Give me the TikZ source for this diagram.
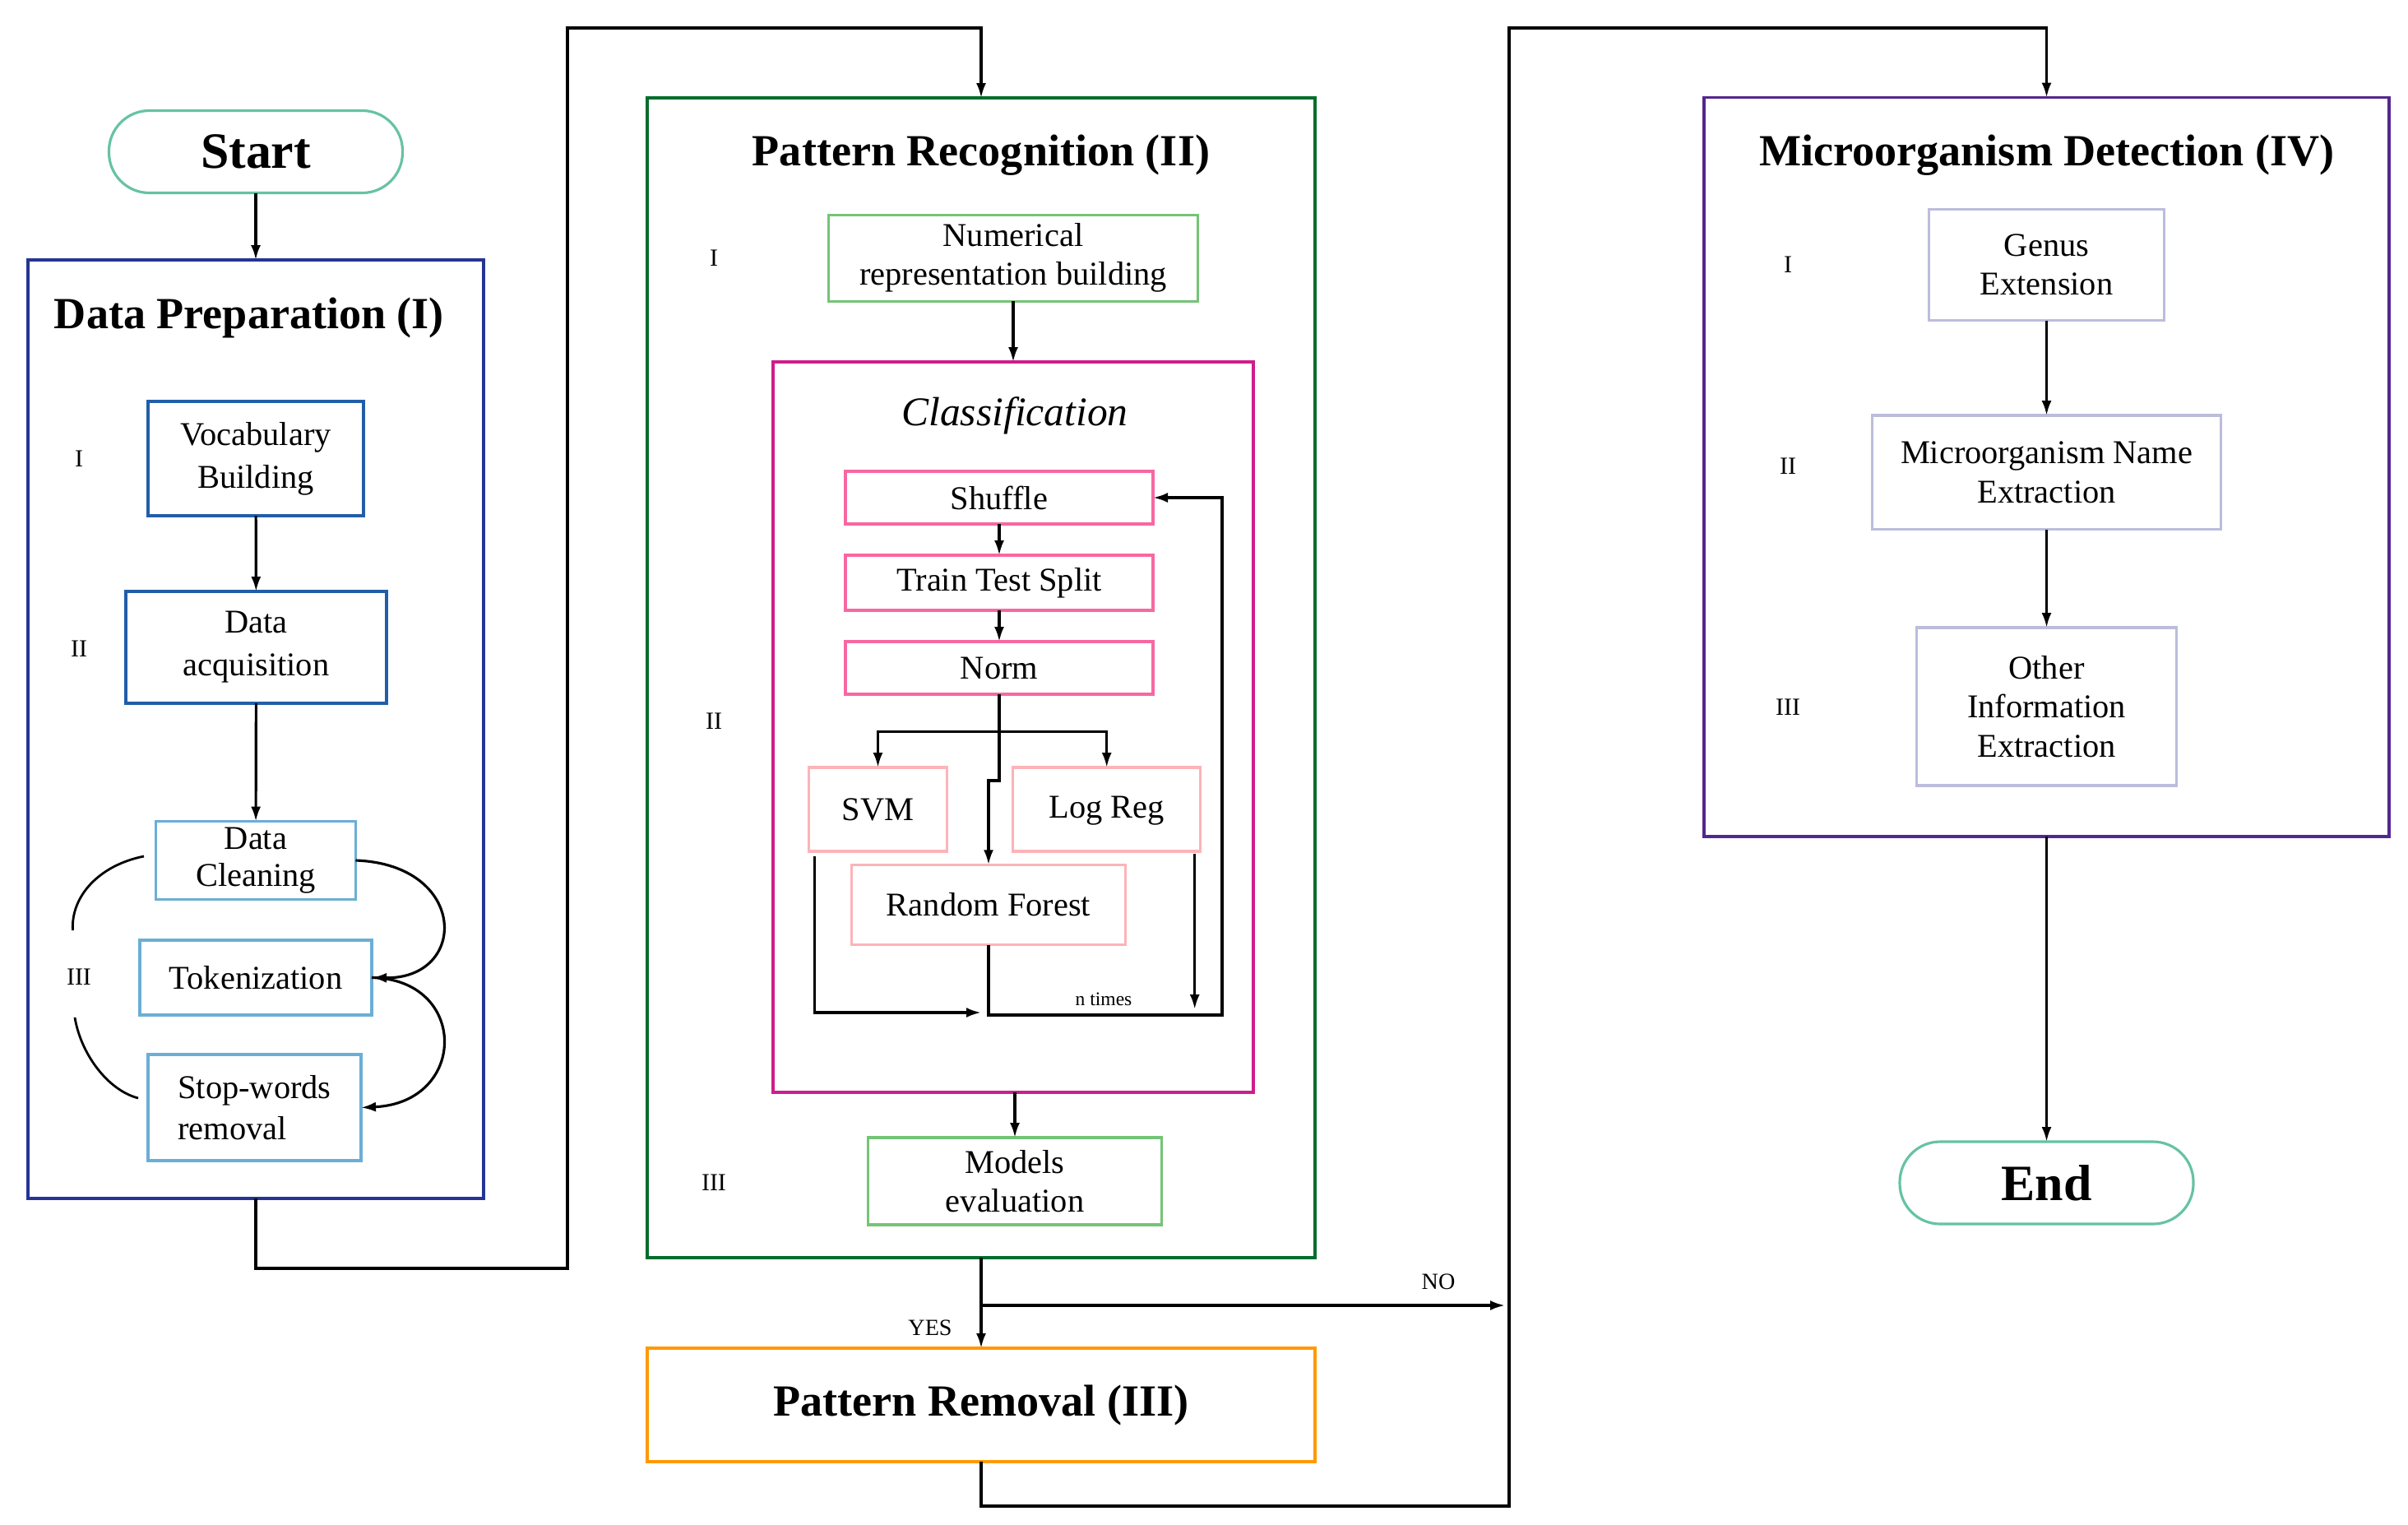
\documentclass[tikz,border=0pt]{standalone}
\usepackage{fontspec}
\setmainfont{Liberation Serif}
\usepackage{xcolor}
\usepackage{tikz}
\usetikzlibrary{arrows.meta}

\definecolor{termgreen}{RGB}{102,194,165}
\definecolor{dpnavy}{RGB}{37,52,148}
\definecolor{dpblue}{RGB}{34,94,168}
\definecolor{dplight}{RGB}{107,174,214}
\definecolor{prgreen}{RGB}{0,109,44}
\definecolor{prlight}{RGB}{116,196,118}
\definecolor{clmagenta}{RGB}{205,30,140}
\definecolor{clpink}{RGB}{247,104,161}
\definecolor{clrose}{RGB}{251,180,185}
\definecolor{remorange}{RGB}{255,153,0}
\definecolor{mdpurple}{RGB}{84,39,143}
\definecolor{mdlav}{RGB}{188,189,220}

\begin{document}
\begin{tikzpicture}[
  flow/.style={-{Latex[length=1.8mm,width=1.2mm]}, line width=0.9pt},
  stage/.style={draw=#1, line width=1.1pt, inner sep=0pt, outer sep=0pt},
  box/.style={draw=#1, line width=0.9pt, inner sep=2pt, outer sep=0pt, align=center,
    font=\fontsize{11.5}{13.5}\selectfont},
  term/.style={draw=termgreen, line width=0.9pt, rounded corners=0.49cm, outer sep=0pt,
    minimum width=3.57cm, minimum height=1cm, font=\bfseries\fontsize{17.6}{20}\selectfont},
  heading/.style={font=\bfseries\fontsize{15.4}{18}\selectfont},
  roman/.style={font=\fontsize{8.5}{10}\selectfont},
  tiny/.style={font=\fontsize{8}{9}\selectfont},
]
\useasboundingbox (0,0) rectangle (29.28,-18.53);

% data preparation
\node[term] (begin) at (3.11,-1.845) {Start};
\node[stage=dpnavy, minimum width=5.54cm, minimum height=11.41cm] (dprep) at (3.11,-8.865) {};
\node[heading] (dptitle) at (3.03,-3.86) {Data Preparation (I)};
\node[roman] (dpi) at (0.96,-5.58) {I};
\node[roman] (dpii) at (0.96,-7.89) {II};
\node[roman] (dpiii) at (0.96,-11.88) {III};
\node[box=dpblue, minimum width=2.62cm, minimum height=1.39cm, font=\fontsize{11.5}{14.8}\selectfont] (vocab) at (3.11,-5.575) {Vocabulary\\Building};
\node[box=dpblue, minimum width=3.17cm, minimum height=1.36cm, font=\fontsize{11.5}{14.8}\selectfont] (acq) at (3.115,-7.87) {Data\\acquisition};
\node[box=dplight, minimum width=2.43cm, minimum height=0.92cm, font=\fontsize{11.5}{13}\selectfont] (clean) at (3.11,-10.46) {Data\\Cleaning};
\node[box=dplight, minimum width=2.82cm, minimum height=0.91cm] (token) at (3.11,-11.885) {Tokenization};
\node[box=dplight, minimum width=2.59cm, minimum height=1.29cm, align=left, font=\fontsize{11.5}{14.2}\selectfont] (stopw) at (3.095,-13.465) {Stop-words\\removal};

\draw[flow] (begin.south) -- (dprep.north);
\draw[flow] (vocab) -- (acq);
\draw[flow] (acq) -- (clean);
\draw[flow] (clean.east) .. controls +(1.37,-0.05) and +(1.18,-0.02) .. (token.east);
\draw[flow] (token.east) .. controls +(1.18,-0.02) and +(1.3,0.06) .. (stopw.east);
\draw[line width=0.8pt] (1.75,-10.41) .. controls (1.2,-10.52) and (0.86,-10.9) .. (0.885,-11.31);
\draw[line width=0.8pt] (0.91,-12.37) .. controls (0.98,-12.8) and (1.3,-13.25) .. (1.68,-13.35);

% pattern recognition
\node[stage=prgreen, minimum width=8.12cm, minimum height=14.10cm] (prec) at (11.93,-8.24) {};
\node[heading] (prtitle) at (11.93,-1.89) {Pattern Recognition (II)};
\node[roman] (pri) at (8.68,-3.14) {I};
\node[roman] (prii) at (8.68,-8.77) {II};
\node[roman] (priii) at (8.68,-14.38) {III};
\node[box=prlight, minimum width=4.49cm, minimum height=1.05cm] (numrep) at (12.32,-3.136) {Numerical\\representation building};
\node[stage=clmagenta, line width=0.9pt, minimum width=5.84cm, minimum height=8.88cm] (classif) at (12.32,-8.84) {};
\node[font=\itshape\fontsize{14.1}{16}\selectfont] (cltitle) at (12.34,-5.05) {Classification};
\node[box=clpink, minimum width=3.74cm, minimum height=0.64cm] (shuffle) at (12.15,-6.05) {Shuffle};
\node[box=clpink, minimum width=3.74cm, minimum height=0.67cm] (split) at (12.15,-7.085) {Train Test Split};
\node[box=clpink, minimum width=3.74cm, minimum height=0.64cm] (norm) at (12.15,-8.12) {Norm};
\node[box=clrose, minimum width=1.675cm, minimum height=1.02cm] (svm) at (10.675,-9.84) {SVM};
\node[box=clrose, minimum width=2.28cm, minimum height=1.02cm, text depth=0.3ex] (logreg) at (13.457,-9.84) {Log Reg};
\node[box=clrose, minimum width=3.33cm, minimum height=0.975cm] (forest) at (12.02,-11.0) {Random Forest};
\node[box=prlight, minimum width=3.57cm, minimum height=1.06cm] (models) at (12.34,-14.36) {Models\\evaluation};
\node[font=\fontsize{6.7}{8}\selectfont] (ntimes) at (13.42,-12.15) {n times};
\coordinate (svmjoin) at (11.93,-12.31);

\draw[flow] (numrep.south) -- (numrep.south |- classif.north);
\draw[flow] (shuffle) -- (split);
\draw[flow] (split) -- (norm);
\draw[line width=0.9pt] (norm.south) -- ++(0,-0.455) coordinate (fan);
\draw[flow] (fan) -| (svm.north);
\draw[flow] (fan) -| (logreg.north);
\draw[flow] (fan) -- ++(0,-0.595) -| (forest.north);
\draw[flow] ([xshift=0.07cm,yshift=-0.06cm]svm.south west) |- (svmjoin);
\draw[flow] (forest.south) |- (14.86,-12.34) |- (shuffle.east);
\draw[flow] ([xshift=-0.07cm,yshift=-0.03cm]logreg.south east) -- ++(0,-1.89);
\draw[flow] (classif.south -| models.north) -- (models.north);

% pattern removal
\node[stage=remorange, minimum width=8.12cm, minimum height=1.38cm, heading] (prem) at (11.93,-17.08) {Pattern Removal (III)};
\coordinate (j1) at (6.90,-15.42);
\coordinate (j2) at (6.90,-0.34);
\coordinate (fork) at (11.93,-15.87);
\coordinate (nojoin) at (18.30,-15.87);
\coordinate (j3) at (18.35,-18.31);
\coordinate (j4) at (18.35,-0.34);
\draw[flow] (dprep.south) |- (j1) -- (j2) -| (prec.north);
\draw[flow] (prec.south) -- (prem.north);
\draw[flow] (fork) -- (nojoin);
\node[tiny] (yes) at (11.31,-16.14) {YES};
\node[tiny] (no) at (17.49,-15.58) {NO};

% microorganism detection
\node[stage=mdpurple, minimum width=8.33cm, minimum height=8.985cm] (mdet) at (24.885,-5.678) {};
\node[heading] (mdtitle) at (24.89,-1.89) {Microorganism Detection (IV)};
\node[roman] (mdi) at (21.74,-3.22) {I};
\node[roman] (mdii) at (21.74,-5.67) {II};
\node[roman] (mdiii) at (21.74,-8.60) {III};
\node[box=mdlav, minimum width=2.856cm, minimum height=1.35cm] (genus) at (24.885,-3.22) {Genus\\Extension};
\node[box=mdlav, minimum width=4.245cm, minimum height=1.387cm] (mname) at (24.885,-5.744) {Microorganism Name\\Extraction};
\node[box=mdlav, minimum width=3.164cm, minimum height=1.92cm] (other) at (24.885,-8.59) {Other\\Information\\Extraction};
\node[term] (finish) at (24.885,-14.38) {End};

\draw[flow] (prem.south) |- (j3) -- (j4) -| (mdet.north);
\draw[flow] (genus) -- (mname);
\draw[flow] (mname) -- (other);
\draw[flow] (mdet.south) -- (finish.north);
\end{tikzpicture}
\end{document}
